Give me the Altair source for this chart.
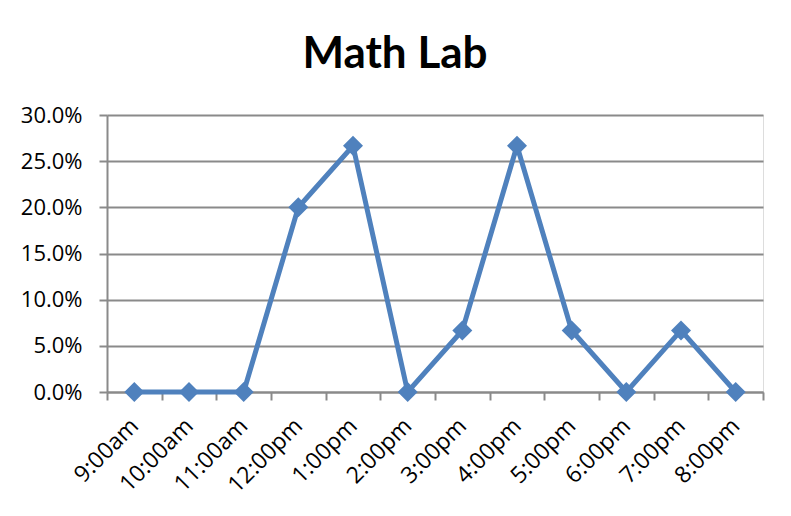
import altair as alt
import pandas as pd

times = ["9:00am", "10:00am", "11:00am", "12:00pm", "1:00pm", "2:00pm",
         "3:00pm", "4:00pm", "5:00pm", "6:00pm", "7:00pm", "8:00pm"]
share = [0.0, 0.0, 0.0, 0.2, 0.2667, 0.0, 0.0667, 0.2667, 0.0667, 0.0, 0.0667, 0.0]
y_ticks = [0.0, 0.05, 0.10, 0.15, 0.20, 0.25, 0.30]

df = pd.DataFrame({"time": times, "share": share})

GRAY = "#8a8a8a"
BLUE = "#4f81bd"
FONT = "Open Sans"

x = alt.X("time:N", sort=times, title=None,
          scale=alt.Scale(type="band", paddingInner=0, paddingOuter=0),
          axis=alt.Axis(labelAngle=-45, labelFont=FONT, labelFontSize=23,
                        labelColor="black", labelPadding=22,
                        labelBaseline="middle", labelAlign="right",
                        tickBand="extent",
                        tickSize=8, tickColor=GRAY, tickWidth=2,
                        domainColor=GRAY, domainWidth=2, grid=False))
y = alt.Y("share:Q", title=None,
          scale=alt.Scale(domain=[0, 0.3], nice=False),
          axis=alt.Axis(values=y_ticks, format=".1%", labelFont=FONT,
                        labelFontSize=22, labelColor="black", labelPadding=17,
                        tickSize=8, tickColor=GRAY, tickWidth=2,
                        domainColor=GRAY, domainWidth=2,
                        gridColor=GRAY, gridWidth=2, gridOpacity=1))

base = alt.Chart(df)
line = base.mark_line(color=BLUE, strokeWidth=5).encode(x=x, y=y)
pts = base.mark_point(shape="diamond", filled=True, size=400, color=BLUE,
                      opacity=1).encode(x=x, y=y)

chart = (line + pts).properties(
    width=656, height=277,
    title=alt.TitleParams("Math Lab", font="Lato",
                          fontSize=44, fontWeight="bold", color="black",
                          anchor="middle", dx=-40, offset=27),
    autosize=alt.AutoSizeParams(type="none"),
    padding={"left": 99, "top": 107, "right": 12, "bottom": 110},
).configure_view(stroke=None).configure(background="white")

chart.save("out.html", embed_options={"renderer": "svg", "actions": False})
